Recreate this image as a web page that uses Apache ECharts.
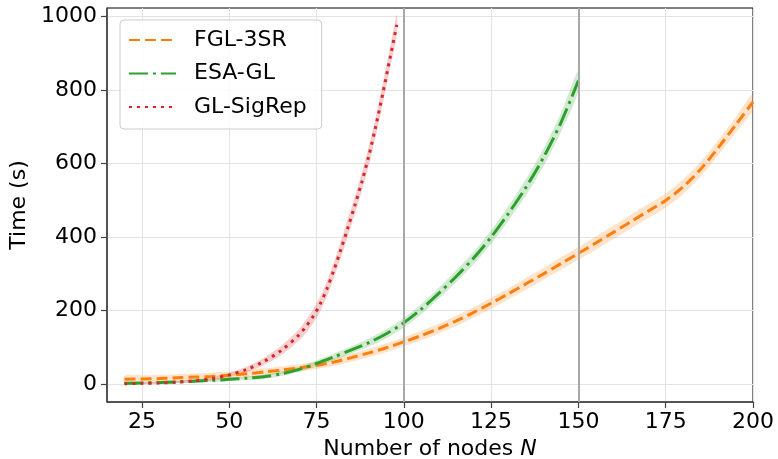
<!DOCTYPE html>
<html>
<head>
<meta charset="utf-8">
<script src="https://cdn.jsdelivr.net/npm/echarts@6/dist/echarts.min.js"></script>
<style>
html,body{margin:0;padding:0;background:#fff;}
#chart{width:778px;height:459px;}
</style>
</head>
<body>
<div id="chart"></div>
<script>
// ---- data ----
var seriesNames = ['FGL-3SR', 'ESA-GL', 'GL-SigRep'];

var fglN = [20,25,30,35,40,45,50,55,60,65,70,75,80,85,90,95,100,105,110,115,120,125,130,135,140,145,150,155,160,165,170,175,180,185,190,195,200];
var fglTime = [13,14,15,17,19,21,24,28,33,38,44,51,60,72,85,99,115,132,151,172,195,220,246,273,300,328,356,384,413,442,471,500,537,585,643,705,768];
var fglSpread = [10,10,10,10,10,10,10,10,10,10,10,10,11,11,11,12,12,13,13,14,14,15,15,16,16,17,17,18,18,19,19,19,20,20,21,21,22];

var esaN = [20,25,30,35,40,45,50,55,60,65,70,75,80,85,90,95,100,105,110,115,120,125,130,135,140,145,150];
var esaTime = [2,3,4,6,8,10,13,16,20,28,40,56,74,93,113,137,167,204,247,293,343,400,465,536,617,712,826];
var esaSpread = [3,3,3,3,4,4,5,5,6,6,7,8,9,10,11,12,13,14,15,16,17,19,20,22,24,26,28];

var sigN = [20,25,30,35,40,45,50,55,60,65,70,72,74,76,78,80,82,84,86,88,90,92,94,96,98];
var sigTime = [1,2,3,5,9,15,25,40,62,92,134,157,184,217,260,311,367,426,487,551,622,703,792,885,978];
var sigSpread = [2,2,2,3,4,5,6,8,10,13,16,18,19,20,21,22,23,24,24,25,26,27,28,28,28];

var xTicks = [25,50,75,100,125,150,175,200];
var yTicks = [0,200,400,600,800,1000];
var vLines = [100,150];

// ---- chart ----
var colors = ['#ff7f0e', '#2ca02c', '#d62728'];
var bandColors = ['rgba(255,127,14,0.22)', 'rgba(44,160,44,0.22)', 'rgba(214,39,40,0.22)'];
var dashes = [[11,5], [19,5,3,5], [3,5]];
var FONT = 'DejaVu Sans';

function pairs(xs, ys) { return xs.map(function (x, i) { return [x, ys[i]]; }); }

function bandSeries(xs, ys, sp, color, k) {
  return {
    name: 'band-' + k, type: 'custom', silent: true, z: 1, clip: true,
    data: xs.map(function (x, i) { return [x, ys[i] - sp[i], ys[i] + sp[i]]; }),
    encode: { x: 0, y: [1, 2] },
    renderItem: function (params, api) {
      if (params.dataIndex !== 0) return null;
      var pts = [];
      for (var i = 0; i < xs.length; i++) pts.push(api.coord([xs[i], ys[i] + sp[i]]));
      for (var j = xs.length - 1; j >= 0; j--) pts.push(api.coord([xs[j], ys[j] - sp[j]]));
      return { type: 'polygon', shape: { points: pts, smooth: 0.3 }, style: { fill: color, stroke: null } };
    }
  };
}

var sets = [[fglN, fglTime, fglSpread], [esaN, esaTime, esaSpread], [sigN, sigTime, sigSpread]];
var series = [];
sets.forEach(function (s, k) { series.push(bandSeries(s[0], s[1], s[2], bandColors[k], k)); });
sets.forEach(function (s, k) {
  var ser = {
    name: seriesNames[k], type: 'line', data: pairs(s[0], s[1]),
    symbol: 'none', showSymbol: false, z: 3 + k, smooth: 0.3,
    itemStyle: { color: colors[k] },
    lineStyle: { color: colors[k], width: 3, type: dashes[k], cap: 'butt' }
  };
  if (k === 0) {
    ser.markLine = {
      silent: true, symbol: 'none', label: { show: false },
      lineStyle: { color: '#a8a8a8', width: 2, type: 'solid' },
      data: vLines.map(function (v) { return { xAxis: v }; })
    };
  }
  series.push(ser);
});

var chart = echarts.init(document.getElementById('chart'), null, { renderer: 'canvas' });
chart.setOption({
  animation: false,
  backgroundColor: '#fff',
  textStyle: { fontFamily: FONT },
  grid: { left: 107, right: 25, top: 8, bottom: 57, show: true, borderColor: '#000', borderWidth: 1,
          containLabel: false, outerBoundsMode: 'none' },
  legend: {
    data: seriesNames, orient: 'vertical', left: 120, top: 20,
    itemWidth: 47, itemHeight: 14, itemGap: 11.5,
    padding: [9, 15, 11, 8],
    itemStyle: { opacity: 0 },
    borderColor: '#cccccc', borderWidth: 1, borderRadius: 4, backgroundColor: 'rgba(255,255,255,0.85)',
    textStyle: { fontSize: 22, color: '#000', fontFamily: FONT, padding: [0, 0, 0, 13] }
  },
  xAxis: {
    type: 'value', min: 15, max: 200,
    name: 'Number of nodes {i|N}', nameLocation: 'middle', nameGap: 34,
    nameTextStyle: { fontSize: 22, color: '#000', fontFamily: FONT,
      rich: { i: { fontSize: 22, fontStyle: 'italic', fontFamily: FONT, color: '#000' } } },
    axisLine: { show: true, onZero: false, lineStyle: { color: '#444', width: 1.5 } },
    axisTick: { show: true, length: 6, lineStyle: { color: '#444', width: 1.2 }, customValues: xTicks },
    axisLabel: { fontSize: 22, color: '#000', margin: 9, fontFamily: FONT, customValues: xTicks,
                 formatter: function (v) { return String(v); } },
    splitLine: { show: true, lineStyle: { color: '#e3e3e3', width: 1 } }
  },
  yAxis: {
    type: 'value', min: -48.75, max: 1023.75,
    name: 'Time (s)', nameLocation: 'middle', nameGap: 72,
    nameTextStyle: { fontSize: 22, color: '#000', fontFamily: FONT },
    axisLine: { show: true, onZero: false, lineStyle: { color: '#444', width: 1.5 } },
    axisTick: { show: true, length: 6, lineStyle: { color: '#444', width: 1.2 }, customValues: yTicks },
    axisLabel: { fontSize: 22, color: '#000', margin: 10, fontFamily: FONT, customValues: yTicks,
                 formatter: function (v) { return String(v); } },
    splitLine: { show: true, lineStyle: { color: '#e3e3e3', width: 1 } }
  },
  series: series
});
</script>
</body>
</html>
